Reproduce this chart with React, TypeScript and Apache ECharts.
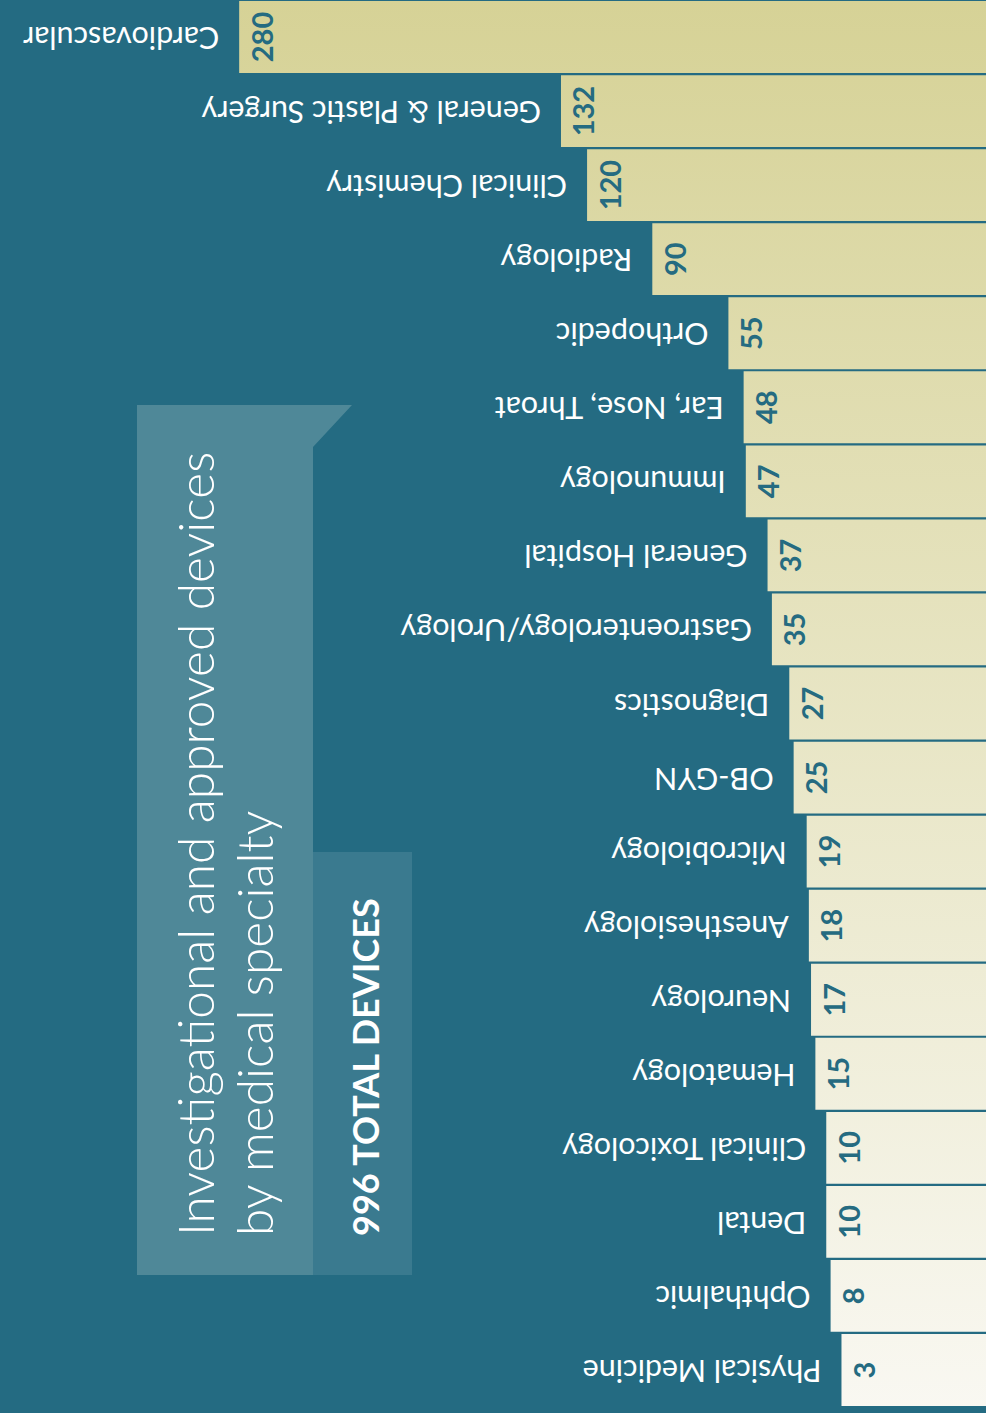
import React, { useEffect, useRef } from "react";
import * as echarts from "echarts";

const categories = [
  "Cardiovascular",
  "General & Plastic Surgery",
  "Clinical Chemistry",
  "Radiology",
  "Orthopedic",
  "Ear, Nose, Throat",
  "Immunology",
  "General Hospital",
  "Gastroenterology/Urology",
  "Diagnostics",
  "OB-GYN",
  "Microbiology",
  "Anesthesiology",
  "Neurology",
  "Hematology",
  "Clinical Toxicology",
  "Dental",
  "Ophthalmic",
  "Physical Medicine",
];

const values = [280, 132, 120, 90, 55, 48, 47, 37, 35, 27, 25, 19, 18, 17, 15, 10, 10, 8, 3];

const titleLines = ["Investigational and approved devices", "by medical specialty"];
const totalSuffix = "TOTAL DEVICES";

const BG = "#246b82";
const FONT = "Lato";

export default function App() {
  const ref = useRef<HTMLDivElement>(null);

  useEffect(() => {
    document.body.style.margin = "0";
    const chart = echarts.init(ref.current!, null, { renderer: "svg" });
    const total = values.reduce((a, b) => a + b, 0);
    const barFill = new echarts.graphic.LinearGradient(
      0,
      0,
      0,
      1413,
      [
        { offset: 0, color: "#d6d296" },
        { offset: 1, color: "#f9f8f2" },
      ],
      true
    );

    chart.setOption({
      animation: false,
      backgroundColor: BG,
      grid: { left: 0, right: 138, top: -3, bottom: 6, containLabel: false },
      xAxis: { type: "value", min: 0, max: 390, inverse: true, show: false },
      yAxis: { type: "category", data: categories, inverse: true, show: false },
      series: [
        {
          type: "custom",
          data: values.map((v, i) => [v, i]),
          encode: { x: 0, y: 1 },
          renderItem: (params: any, api: any) => {
            const v = api.value(0);
            const idx = api.value(1);
            const p = api.coord([v, idx]);
            const band = api.size([0, 1])[1];
            const h = band - 2.2;
            const right = api.getWidth();
            return {
              type: "group",
              children: [
                {
                  type: "rect",
                  shape: { x: p[0], y: p[1] - h / 2, width: right - p[0], height: h },
                  style: { fill: barFill },
                },
                {
                  type: "text",
                  x: p[0] + 22,
                  y: p[1],
                  rotation: Math.PI / 2,
                  style: {
                    text: String(v),
                    fill: "#256b81",
                    fontFamily: FONT,
                    fontWeight: 700,
                    fontSize: 29,
                    align: "center",
                    verticalAlign: "middle",
                  },
                },
                {
                  type: "text",
                  x: p[0] - 20,
                  y: p[1] + 2,
                  rotation: Math.PI,
                  style: {
                    text: categories[idx],
                    fill: "#ffffff",
                    fontFamily: FONT,
                    fontWeight: 400,
                    fontSize: 30.5,
                    align: "left",
                    verticalAlign: "middle",
                  },
                },
              ],
            };
          },
        },
      ],
      graphic: [
        {
          type: "polygon",
          shape: {
            points: [
              [137, 405],
              [352, 405],
              [313, 447],
              [313, 1275],
              [137, 1275],
            ],
          },
          style: { fill: "#4f8898" },
        },
        {
          type: "rect",
          shape: { x: 313, y: 852, width: 99, height: 423 },
          style: { fill: "#3a7a8f" },
        },
        {
          type: "text",
          x: 195,
          y: 1236,
          rotation: Math.PI / 2,
          style: {
            text: titleLines[0],
            fill: "#ffffff",
            fontFamily: FONT,
            fontWeight: 300,
            fontSize: 49.6,
            align: "left",
            verticalAlign: "middle",
          },
        },
        {
          type: "text",
          x: 254,
          y: 1236,
          rotation: Math.PI / 2,
          style: {
            text: titleLines[1],
            fill: "#ffffff",
            fontFamily: FONT,
            fontWeight: 300,
            fontSize: 49.6,
            align: "left",
            verticalAlign: "middle",
          },
        },
        {
          type: "text",
          x: 365,
          y: 1236,
          rotation: Math.PI / 2,
          style: {
            text: total + " " + totalSuffix,
            fill: "#ffffff",
            fontFamily: FONT,
            fontWeight: 700,
            fontSize: 36,
            align: "left",
            verticalAlign: "middle",
          },
        },
      ],
    });
    return () => chart.dispose();
  }, []);

  return <div ref={ref} style={{ width: 986, height: 1413 }} />;
}
